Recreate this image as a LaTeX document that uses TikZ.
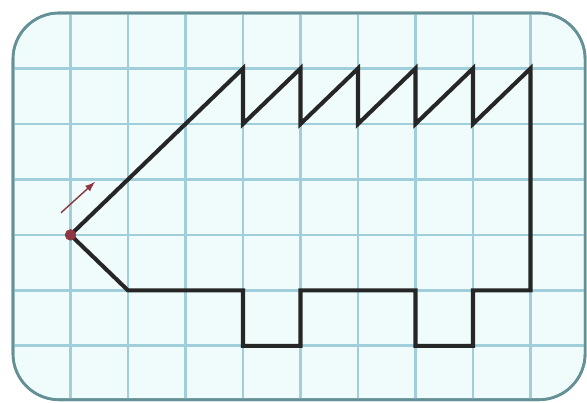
\documentclass[tikz,border=0pt]{standalone}
\definecolor{gridblue}{RGB}{160,206,218}
\definecolor{framegray}{RGB}{100,145,150}
\definecolor{bgcyan}{RGB}{240,251,252}
\definecolor{dotred}{RGB}{140,55,65}
\begin{document}
\begin{tikzpicture}[x=1cm,y=-0.965cm,
    gridline/.style={draw=gridblue,line width=1.4pt},
    frame/.style={draw=framegray,line width=1.3pt,rounded corners=0.8cm},
    outline/.style={draw=black!85,line width=2pt,line join=miter},
    startdot/.style={circle,fill=dotred,minimum size=5.5pt,inner sep=0pt}
]
\useasboundingbox[fill=white] (-0.226,-0.234) rectangle (9.983,7.027);
\path[frame,fill=bgcyan] (0,0) rectangle (9.95,6.97);

% squared paper
\begin{scope}
\clip[rounded corners=0.8cm] (0,0) rectangle (9.95,6.97);
\foreach \i in {1,...,9} \draw[gridline] (\i,0) -- (\i,6.97);
\foreach \j in {1,...,6} \draw[gridline] (0,\j) -- (9.95,\j);
\end{scope}
\draw[frame] (0,0) rectangle (9.95,6.97);

% the figure
\node[startdot] (start) at (1,4) {};
\draw[outline] (start.center) -- (4,1) -- (4,2) -- (5,1) -- (5,2) -- (6,1) -- (6,2)
    -- (7,1) -- (7,2) -- (8,1) -- (8,2) -- (9,1) -- (9,5) -- (8,5) -- (8,6)
    -- (7,6) -- (7,5) -- (5,5) -- (5,6) -- (4,6) -- (4,5) -- (2,5) -- cycle;
\node[startdot] at (start) {};

\coordinate (arrtail) at (0.835,3.6);
\coordinate (arrhead) at (1.426,3.045);
\draw[-latex,draw=dotred,line width=0.7pt] (arrtail) -- (arrhead);
\end{tikzpicture}
\end{document}
